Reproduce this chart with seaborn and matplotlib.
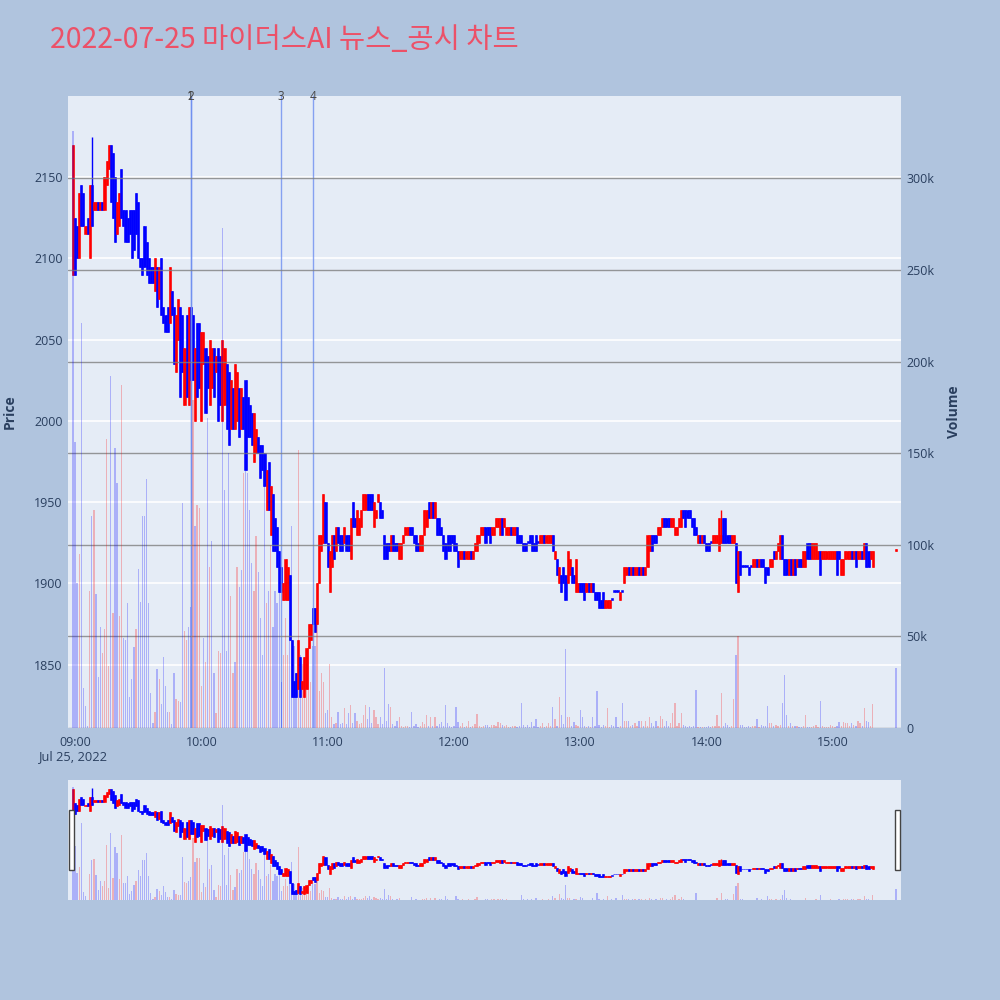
import matplotlib
matplotlib.use("Agg")
import matplotlib.pyplot as plt
import matplotlib.dates as mdates
from matplotlib.patches import Rectangle
import numpy as np
import pandas as pd
import seaborn as sns

sns.set_style("white")
plt.rcParams["font.family"] = ["Open Sans", "Noto Sans CJK KR", "DejaVu Sans"]

TITLE = "2022-07-25 마이더스AI 뉴스_공시 차트"
DAY = "2022-07-25"

# one-minute candles, 08:59 .. 15:19
opens = [
    2090, 2125, 2120, 2100, 2145, 2140, 2115, 2125, 2100, 2145,
    2130, 2130, 2135, 2130, 2135, 2130, 2145, 2155, 2170, 2165,
    2150, 2115, 2120, 2155, 2130, 2130, 2125, 2130, 2130, 2130,
    2140, 2135, 2100, 2100, 2120, 2110, 2100, 2095, 2095, 2080,
    2095, 2075, 2100, 2070, 2065, 2070, 2060, 2080, 2070, 2030,
    2050, 2070, 2065, 2010, 2065, 2010, 2070, 2065, 2000, 2060,
    2060, 2000, 2035, 2045, 2040, 2010, 2020, 2045, 2030, 2045,
    2040, 2000, 2010, 2035, 2030, 1995, 2020, 1995, 2000, 2020,
    1995, 2015, 2025, 2015, 2010, 2005, 1975, 1980, 1990, 1985,
    1985, 1980, 1945, 1975, 1930, 1955, 1940, 1935, 1920, 1910,
    1890, 1890, 1890, 1905, 1865, 1840, 1845, 1835, 1855, 1835,
    1830, 1835, 1860, 1865, 1885, 1885, 1875, 1900, 1920, 1925,
    1950, 1925, 1895, 1910, 1930, 1920, 1935, 1930, 1930, 1925,
    1930, 1930, 1915, 1950, 1940, 1930, 1930, 1935, 1945, 1945,
    1955, 1955, 1955, 1935, 1940, 1950, 1950, 1945, 1930, 1925,
    1925, 1920, 1930, 1925, 1925, 1915, 1915, 1925, 1930, 1930,
    1935, 1935, 1930, 1930, 1925, 1920, 1920, 1930, 1935, 1950,
    1940, 1950, 1940, 1940, 1940, 1935, 1930, 1925, 1930, 1930,
    1930, 1930, 1925, 1920, 1915, 1915, 1920, 1915, 1915, 1920,
    1915, 1920, 1920, 1925, 1930, 1930, 1935, 1935, 1935, 1930,
    1930, 1935, 1935, 1930, 1940, 1935, 1930, 1930, 1935, 1930,
    1930, 1935, 1930, 1930, 1925, 1925, 1925, 1930, 1930, 1925,
    1930, 1925, 1925, 1925, 1930, 1925, 1925, 1925, 1930, 1915,
    1915, 1900, 1905, 1910, 1905, 1900, 1905, 1910, 1905, 1895,
    1895, 1900, 1900, 1900, 1895, 1900, 1895, 1900, 1895, 1895,
    1895, 1890, 1895, 1885, 1885, 1885, 1890, 1895, 1895, 1895,
    1890, 1895, 1900, 1905, 1910, 1905, 1910, 1905, 1905, 1910,
    1905, 1910, 1905, 1910, 1920, 1930, 1930, 1930, 1930, 1930,
    1935, 1940, 1940, 1940, 1935, 1935, 1930, 1930, 1935, 1935,
    1945, 1945, 1945, 1945, 1940, 1940, 1935, 1925, 1930, 1925,
    1930, 1925, 1925, 1925, 1925, 1925, 1925, 1920, 1925, 1940,
    1940, 1930, 1930, 1925, 1925, 1925, 1895, 1920, 1910, 1910,
    1910, 1910, 1910, 1910, 1910, 1915, 1910, 1915, 1915, 1910,
    1910, 1910, 1910, 1920, 1915, 1920, 1915, 1930, 1915, 1915,
    1905, 1915, 1905, 1915, 1910, 1915, 1915, 1910, 1910, 1925,
    1925, 1915, 1915, 1915, 1915, 1920, 1915, 1915, 1915, 1915,
    1915, 1915, 1915, 1920, 1920, 1905, 1905, 1915, 1915, 1915,
    1920, 1915, 1920, 1915, 1915, 1920, 1915, 1925, 1920, 1915,
    1910,
]
closes = [
    2170, 2090, 2100, 2140, 2120, 2120, 2120, 2115, 2145, 2120,
    2135, 2135, 2130, 2135, 2130, 2150, 2160, 2170, 2135, 2125,
    2110, 2135, 2140, 2125, 2120, 2110, 2110, 2115, 2100, 2105,
    2115, 2100, 2095, 2090, 2095, 2090, 2085, 2085, 2085, 2100,
    2070, 2095, 2065, 2060, 2055, 2055, 2095, 2065, 2035, 2065,
    2075, 2015, 2030, 2045, 2015, 2070, 2025, 2025, 2045, 2015,
    2020, 2055, 2055, 2005, 2020, 2050, 2045, 2015, 2040, 2000,
    2010, 2050, 2045, 1995, 1985, 2025, 1995, 2035, 2030, 1990,
    2020, 1995, 1970, 1990, 1990, 1985, 2005, 1995, 1980, 1965,
    1970, 1960, 1970, 1945, 1960, 1920, 1920, 1910, 1895, 1895,
    1900, 1915, 1910, 1865, 1830, 1830, 1830, 1865, 1830, 1840,
    1855, 1860, 1875, 1875, 1875, 1870, 1900, 1930, 1930, 1955,
    1925, 1910, 1920, 1930, 1915, 1935, 1925, 1920, 1920, 1935,
    1920, 1920, 1940, 1935, 1935, 1945, 1940, 1945, 1955, 1955,
    1945, 1945, 1945, 1950, 1945, 1955, 1940, 1940, 1915, 1915,
    1920, 1930, 1920, 1920, 1920, 1925, 1925, 1930, 1935, 1935,
    1930, 1930, 1925, 1920, 1920, 1930, 1930, 1945, 1945, 1940,
    1950, 1940, 1950, 1930, 1930, 1930, 1920, 1915, 1920, 1920,
    1925, 1920, 1920, 1910, 1920, 1920, 1915, 1920, 1920, 1915,
    1920, 1925, 1930, 1930, 1935, 1935, 1925, 1930, 1925, 1935,
    1935, 1940, 1940, 1940, 1930, 1940, 1935, 1935, 1930, 1935,
    1935, 1925, 1925, 1925, 1920, 1920, 1925, 1925, 1920, 1920,
    1920, 1925, 1930, 1930, 1925, 1930, 1930, 1930, 1920, 1920,
    1905, 1910, 1895, 1900, 1890, 1920, 1915, 1900, 1900, 1915,
    1900, 1895, 1895, 1890, 1900, 1895, 1900, 1895, 1890, 1890,
    1885, 1885, 1885, 1890, 1890, 1890, 1890, 1895, 1895, 1895,
    1895, 1895, 1910, 1910, 1905, 1910, 1905, 1910, 1910, 1905,
    1910, 1905, 1910, 1930, 1930, 1920, 1925, 1925, 1935, 1935,
    1940, 1935, 1935, 1935, 1940, 1940, 1935, 1935, 1940, 1945,
    1940, 1935, 1940, 1940, 1935, 1930, 1930, 1930, 1925, 1930,
    1925, 1920, 1920, 1925, 1930, 1930, 1930, 1940, 1930, 1925,
    1925, 1925, 1925, 1930, 1930, 1900, 1920, 1905, 1910, 1910,
    1910, 1905, 1910, 1915, 1915, 1910, 1915, 1910, 1910, 1900,
    1905, 1915, 1915, 1915, 1920, 1925, 1930, 1915, 1905, 1905,
    1915, 1905, 1915, 1905, 1915, 1910, 1910, 1920, 1920, 1915,
    1915, 1925, 1925, 1925, 1920, 1905, 1920, 1920, 1920, 1920,
    1920, 1920, 1920, 1905, 1915, 1915, 1915, 1920, 1920, 1920,
    1915, 1920, 1910, 1920, 1920, 1915, 1925, 1910, 1910, 1920,
    1920,
]
# traded volume per minute, thousands of shares
volumes_k = [
    326, 156, 79, 95, 221, 22, 12, 1, 75, 116,
    119, 73, 28, 55, 41, 54, 158, 34, 192, 63,
    153, 134, 61, 187, 49, 48, 68, 17, 27, 44,
    54, 87, 69, 116, 116, 136, 68, 19, 3, 9,
    32, 27, 13, 39, 23, 9, 9, 2, 30, 16,
    15, 14, 123, 53, 48, 55, 66, 179, 110, 122,
    120, 23, 49, 36, 169, 88, 102, 30, 8, 42,
    41, 273, 130, 42, 150, 72, 30, 36, 88, 77,
    86, 139, 188, 139, 119, 90, 75, 105, 85, 60,
    40, 148, 68, 75, 100, 55, 75, 68, 75, 25,
    40, 60, 40, 50, 110, 45, 30, 152, 40, 35,
    25, 40, 45, 25, 45, 45, 60, 20, 30, 25,
    8, 10, 35, 6, 2, 3, 9, 2, 3, 11,
    2, 8, 12.5, 3, 8, 4, 2, 3, 7, 12.5,
    5, 11.5, 3, 10, 6, 2, 6, 2, 33, 4,
    13, 11.5, 2, 1, 4, 6, 1, 0.5, 1, 1,
    0.5, 9, 1, 2, 0.5, 1, 3.5, 2, 7, 1,
    6, 1, 6, 1, 2, 3.5, 1, 12.5, 2.5, 1,
    0.5, 1, 11.6, 3.5, 1, 2.5, 0.5, 1, 4, 0.5,
    1, 2, 7.5, 1, 0.5, 1, 1.5, 1.5, 0.5, 1.5,
    1.5, 1, 3.5, 2.5, 1.5, 1, 1.5, 0.5, 0.5, 1,
    1, 0.5, 1, 13.5, 1.5, 0.5, 1.5, 0.5, 3.5, 1,
    5, 0.5, 1, 2.5, 0.5, 1, 2.5, 1, 11.6, 5,
    1, 17, 7, 2, 43, 6, 6, 1, 3.5, 1.5,
    1, 10, 6, 1, 0.5, 1, 0.5, 6, 1, 20,
    1.5, 0.5, 1.5, 1, 11, 0.5, 1.5, 1, 6, 0.5,
    1, 13.5, 4, 4, 4, 1, 1.5, 2.5, 1, 4,
    4, 1, 4, 1, 6, 2.5, 1, 4, 1, 6.5,
    4.7, 1, 4, 1, 2.5, 8, 13.5, 1, 2.5, 8,
    1.5, 1, 0.5, 1, 0.5, 1, 21, 0.5, 0.5, 0.5,
    0.5, 0.5, 1, 0.5, 1, 1, 7, 1, 19, 1,
    2.5, 1.5, 0.5, 1, 16, 40, 50, 1.5, 1.5, 0.5,
    0.5, 1, 0.5, 1, 1, 5, 0.5, 1.5, 1, 1,
    12, 2.5, 3, 1, 1.5, 1, 1.5, 13.5, 29, 7,
    1, 2.5, 1, 1, 1, 0.5, 0.5, 1, 7, 0.5,
    0.5, 0.5, 1, 1.5, 0.5, 15, 1, 0.5, 0.5, 0.5,
    1.5, 1, 0.5, 1, 3.5, 1, 3.5, 3, 2.5, 1,
    3, 1.5, 1, 4, 2.5, 1, 11, 4, 3.5, 1,
    13,
]
# bar colours read for the busy first 83 minutes (r = red, b = blue);
# later bars follow their candle
vol_side_early = (
    "bbbrbbbbrb" "rbbbrrrrbr" "bbrrbbbbbb" "rbbbbbbbbr" "brbbbbrbbr"
    "rbbrrbbrbr" "rrbrbrbbrr" "rbbbbrrbrb" "brb"
)
# wick tips that stick out of the bodies
wick_high = {9: 2175, 308: 1945}
wick_low = {122: 1895}

# closing auction print
auction_time = "15:30"
auction_open, auction_close, auction_vol_k = 1920, 1921, 33

event_times = ["09:55", "09:55", "10:38", "10:53"]
event_labels = ["1", "2", "3", "4"]

RED, BLUE = "#ff0000", "#0000ff"
RED_A, BLUE_A = (1, 0, 0, 0.25), (0, 0, 1, 0.25)
INK = "#2a3f5f"

times = pd.date_range(f"{DAY} 08:59", periods=len(opens), freq="min")
times = times.append(pd.DatetimeIndex([pd.Timestamp(f"{DAY} {auction_time}")]))
df = pd.DataFrame({
    "time": times,
    "open": opens + [auction_open],
    "close": closes + [auction_close],
    "volume": np.array(volumes_k + [auction_vol_k]) * 1000,
})
df["high"] = df[["open", "close"]].max(axis=1)
df["low"] = df[["open", "close"]].min(axis=1)
for i, v in wick_high.items():
    df.loc[i, "high"] = v
for i, v in wick_low.items():
    df.loc[i, "low"] = v
df["up"] = df["close"] > df["open"]
df["color"] = np.where(df["up"], RED, BLUE)
vol_up = list(df["up"])
for i, s in enumerate(vol_side_early):
    vol_up[i] = s == "r"
vol_up[-1] = False
df["vcolor"] = [RED_A if u else BLUE_A for u in vol_up]
df["x"] = mdates.date2num(df["time"])

MINUTE = 1 / 1440
x_lo = mdates.date2num(pd.Timestamp(f"{DAY} 08:56:40"))
x_hi = mdates.date2num(pd.Timestamp(f"{DAY} 15:32:25"))
PRICE_LIM = (1811, 2200)
VOL_LIM = (0, 345000)


def draw(ax, axv, body_w, vol_w):
    ax.vlines(df["x"], df["low"], df["high"], colors=df["color"], lw=1, zorder=2)
    height = (df["close"] - df["open"]).abs().clip(lower=1.2)
    ax.bar(df["x"], height, bottom=df[["open", "close"]].min(axis=1), width=body_w,
           color=df["color"], edgecolor=df["color"], linewidth=0.4, zorder=3)
    axv.bar(df["x"], df["volume"], width=vol_w, color=list(df["vcolor"]), linewidth=0)
    ax.set_xlim(x_lo, x_hi)
    ax.set_ylim(*PRICE_LIM)
    axv.set_ylim(*VOL_LIM)
    for a in (ax, axv):
        for s in a.spines.values():
            s.set_visible(False)


fig = plt.figure(figsize=(10, 10), dpi=100)
fig.patch.set_facecolor("#b0c4de")

ax = fig.add_axes([0.068, 0.272, 0.833, 0.632])
ax.set_facecolor("#e5ecf6")
axv = ax.twinx()
draw(ax, axv, 1.0 * MINUTE, 0.6 * MINUTE)

ax.set_yticks(range(1850, 2151, 50))
ax.grid(axis="y", color="white", lw=1.2)
ax.grid(axis="x", visible=False)
ax.set_axisbelow(True)
axv.set_yticks(range(0, 300001, 50000))
axv.set_yticklabels(["0", "50k", "100k", "150k", "200k", "250k", "300k"])
axv.grid(axis="y", color="#7f7f7f", lw=1, alpha=0.8)
ax.xaxis.set_major_locator(mdates.HourLocator())
ax.xaxis.set_major_formatter(mdates.DateFormatter("%H:%M"))
ax.tick_params(axis="x", length=0, pad=6, labelsize=9, labelcolor=INK)
ax.tick_params(axis="y", length=0, pad=4, labelsize=9, labelcolor=INK)
axv.tick_params(axis="y", length=0, pad=4, labelsize=9, labelcolor=INK)

# news / disclosure markers
for t, lab in zip(event_times, event_labels):
    xe = mdates.date2num(pd.Timestamp(f"{DAY} {t}"))
    ax.axvline(xe, color="#6d8ef0", lw=1, alpha=0.8, zorder=4)
    ax.text(xe, PRICE_LIM[1], lab, ha="center", va="center", fontsize=8.5,
            color="#444444", zorder=5)

fig.text(0.05, 0.96, TITLE, fontsize=20.5, color="#ec5168", va="center",
         family=["Noto Sans CJK KR", "DejaVu Sans"])
fig.text(0.073, 0.243, "Jul 25, 2022", ha="center", va="center", fontsize=9.3, color=INK)
fig.text(0.010, 0.588, "Price", rotation=90, ha="center", va="center",
         fontsize=10, fontweight="bold", color=INK)
fig.text(0.954, 0.588, "Volume", rotation=90, ha="center", va="center",
         fontsize=10, fontweight="bold", color=INK)

# range slider
sl = fig.add_axes([0.068, 0.100, 0.833, 0.120])
sl.set_facecolor("#e5ecf6")
slv = sl.twinx()
draw(sl, slv, 1.0 * MINUTE, 0.6 * MINUTE)
for a in (sl, slv):
    a.set_xticks([])
    a.set_yticks([])
for hx in (0.069, 0.895):
    fig.patches.append(Rectangle((hx, 0.13), 0.005, 0.06, transform=fig.transFigure,
                                 facecolor="white", edgecolor="#444444", lw=1))

fig.savefig("out.png", dpi=100, facecolor=fig.get_facecolor())
